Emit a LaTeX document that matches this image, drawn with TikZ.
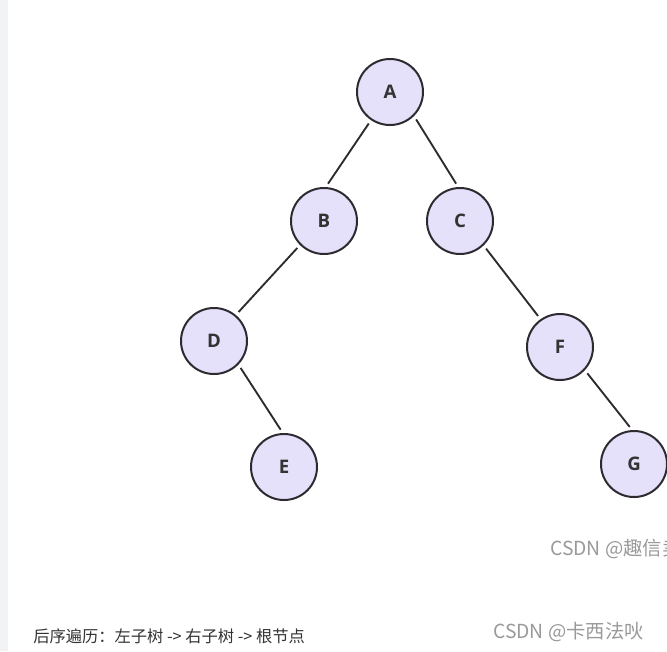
\documentclass[tikz,border=0pt]{standalone}
\usepackage{fontspec}
\newfontfamily\cjk{Noto Sans CJK SC}
\newfontfamily\labfont{Open Sans}
\definecolor{nodefill}{HTML}{E6E1FB}
\definecolor{nodeline}{HTML}{2E2A30}
\definecolor{txt}{HTML}{333333}
\definecolor{wm}{HTML}{9A9A9A}
\definecolor{strip}{HTML}{F2F3F5}
\tikzset{
  treenode/.style={circle, draw=nodeline, fill=nodefill, line width=1.5pt,
    minimum size=49.5pt, inner sep=0pt, font=\labfont\bfseries\fontsize{14}{16}\selectfont, text=txt},
  edge/.style={draw=nodeline, line width=1.4pt, shorten >=3pt, shorten <=3pt},
  wmark/.style={anchor=west, text=wm, font=\cjk\fontsize{14.5}{16}\selectfont, inner sep=0pt}
}
\begin{document}
\begin{tikzpicture}[x=0.75pt, y=-0.75pt]
\useasboundingbox (0,0) rectangle (667,651);
\fill[white] (0,0) rectangle (667,651);
\fill[strip] (0,0) rectangle (8,651);
\node[treenode] (A) at (390,92) {A};
\node[treenode] (B) at (324,221) {B};
\node[treenode] (C) at (460,221) {C};
\node[treenode] (D) at (214,341) {D};
\node[treenode] (E) at (284,467) {E};
\node[treenode] (F) at (560,347) {F};
\node[treenode] (G) at (634,464) {G};
\draw[edge] (A.236) -- (B.87);
\draw[edge] (A.315) -- (C.93);
\draw[edge] (B.225) -- (D.50);
\draw[edge] (D.316) -- (E.92);
\draw[edge] (C.314) -- (F.125);
\draw[edge] (F.317) -- (G.93);
\node[anchor=west, inner sep=0pt, text=txt, font=\cjk\fontsize{12.2}{14}\selectfont] (cap) at (33,636) {后序遍历：左子树 -> 右子树 -> 根节点};
\node[wmark] (w1) at (493,632) {CSDN @卡西法吙};
\begin{scope}
\clip (0,0) rectangle (667,651);
\node[wmark] (w2) at (550,549) {CSDN @趣信卖};
\end{scope}
\end{tikzpicture}
\end{document}
